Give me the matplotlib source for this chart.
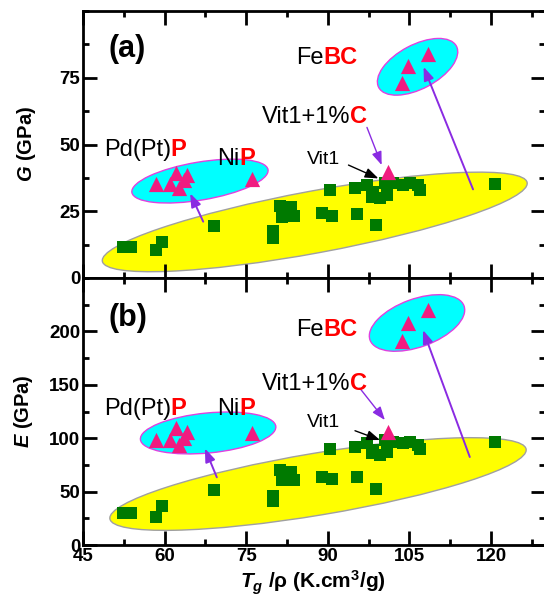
import matplotlib
matplotlib.use("Agg")
import matplotlib.pyplot as plt
import matplotlib.transforms as mtransforms
from matplotlib.patches import Ellipse
from matplotlib.ticker import MultipleLocator

plt.rcParams['font.family'] = ['Liberation Sans', 'DejaVu Sans']
plt.rcParams['mathtext.fontset'] = 'custom'
plt.rcParams['mathtext.rm'] = 'Liberation Sans:bold'
plt.rcParams['mathtext.bf'] = 'Liberation Sans:bold'
plt.rcParams['mathtext.it'] = 'Liberation Sans:italic:bold'

# ---------------- data ----------------
# metallic glasses (green squares)
mg_x = [52.4, 53.9, 58.5, 59.5, 69.1, 79.9, 79.9, 81.2, 83.2, 81.6, 83.8, 82.3,
        89.0, 90.8, 90.4, 95.0, 95.3, 98.8, 97.2, 98.1, 99.6, 100.5, 102.0,
        103.8, 105.1, 106.6, 106.9, 100.8, 98.3, 120.7]
mg_G = [11.7, 11.5, 10.5, 13.5, 19.5, 15.0, 17.5, 26.9, 26.5, 22.8, 23.1, 24.6,
        24.4, 23.1, 32.8, 33.7, 23.9, 19.8, 34.7, 30.3, 29.9, 35.4, 35.4,
        34.7, 35.4, 34.7, 32.8, 31.0, 32.2, 35.3]
mg_E = [30.3, 29.7, 26.5, 36.6, 51.5, 41.0, 46.0, 70.3, 68.7, 60.9, 60.9, 65.0,
        64.0, 61.6, 89.7, 92.1, 63.4, 52.2, 95.3, 85.9, 84.3, 98.4, 96.8,
        95.3, 96.0, 94.0, 90.0, 87.0, 89.0, 96.0]

# metalloid-containing glasses (pink triangles)
pd_x = [58.5, 61.0, 62.1, 64.1, 62.7, 63.6]
pd_G = [35.3, 35.3, 39.2, 38.4, 33.6, 36.6]
pd_E = [98.4, 98.4, 109.4, 106.2, 93.7, 100.0]
ni_x = [76.0]
ni_G = [37.2]
ni_E = [104.7]
vc_x = [101.1]
vc_G = [39.7]
vc_E = [106.2]
fe_x = [103.6, 104.8, 108.5]
fe_G = [73.2, 79.5, 83.8]
fe_E = [191.0, 208.0, 220.0]

x_ticks = [45, 60, 75, 90, 105, 120]
G_ticks = [0, 25, 50, 75]
E_ticks = [0, 50, 100, 150, 200]

# ---------------- figure ----------------
W, H = 544, 604
fig = plt.figure(figsize=(W / 100, H / 100), dpi=100)
left = 83 / W
width = (545.4 - 83) / W
ax1 = fig.add_axes([left, 1 - 278 / H, width, (278 - 11) / H])
ax2 = fig.add_axes([left, 1 - 545 / H, width, (545 - 278) / H])

GREEN = '#007a00'
PINK = '#f01c80'
PURPLE = '#8a2be2'
CYAN = '#00ffff'
YELLOW = '#ffff00'


def style(ax, ylim, yticks, yminor, show_x):
    ax.set_xlim(45, 130)
    ax.set_ylim(*ylim)
    ax.set_xticks(x_ticks)
    ax.xaxis.set_minor_locator(MultipleLocator(7.5))
    ax.set_yticks(yticks)
    ax.yaxis.set_minor_locator(MultipleLocator(yminor))
    ax.tick_params(which='both', direction='in', top=True, right=True, width=2)
    ax.tick_params(which='major', length=10)
    ax.tick_params(which='minor', length=4.5)
    ax.tick_params(labelsize=13.5, pad=2)
    for t in ax.get_xticklabels() + ax.get_yticklabels():
        t.set_fontweight('bold')
    if not show_x:
        ax.tick_params(labelbottom=False)
    for s in ax.spines.values():
        s.set_linewidth(2)


def ell(ax, cx, cy, w_px, h_px, ang, fc, ec):
    tr = fig.dpi_scale_trans + mtransforms.ScaledTranslation(cx, cy, ax.transData)
    e = Ellipse((0, 0), w_px / 100, h_px / 100, angle=ang, transform=tr,
                facecolor=fc, edgecolor=ec, lw=1.0, zorder=1)
    ax.add_patch(e)


def arrow(ax, tail, head, color, lw=1.4):
    ax.annotate('', xy=head, xytext=tail,
                arrowprops=dict(arrowstyle='-|>,head_length=0.8,head_width=0.3',
                                color=color, lw=lw, shrinkA=0, shrinkB=0),
                zorder=5)


def rich(ax, x, y, parts, size):
    fig.canvas.draw()
    r = fig.canvas.get_renderer()
    xd = ax.transData.transform((x, y))[0]
    for txt, col, wt in parts:
        tr = mtransforms.blended_transform_factory(mtransforms.IdentityTransform(), ax.transData)
        t = ax.text(xd, y, txt, color=col, fontweight=wt, fontsize=size,
                    ha='left', va='baseline', transform=tr, zorder=6)
        bb = t.get_window_extent(r)
        xd = bb.x1


style(ax1, (0, 100), G_ticks, 12.5, False)
style(ax2, (0, 250), E_ticks, 25, True)

# ---- panel (a) ----
ell(ax1, 87.6, 21.0, 432, 62, 10.5, YELLOW, '#a0a0a0')
ell(ax1, 66.5, 36.3, 138, 38, 9.5, CYAN, '#e040e0')
ell(ax1, 106.5, 79.1, 88, 44, 28, CYAN, '#e040e0')
ax1.scatter(mg_x, mg_G, marker='s', s=80, color=GREEN, zorder=3, linewidths=0)
for xs, ys in [(pd_x, pd_G), (ni_x, ni_G), (vc_x, vc_G), (fe_x, fe_G)]:
    ax1.scatter(xs, ys, marker='^', s=120, color=PINK, zorder=4, linewidths=0)
arrow(ax1, (67.1, 21.1), (64.7, 31.7), PURPLE)
arrow(ax1, (116.7, 33.2), (107.6, 79.1), PURPLE)
arrow(ax1, (97.2, 56.4), (99.9, 42.3), PURPLE, lw=1.0)
arrow(ax1, (93.8, 42.3), (99.3, 37.3), 'black', lw=1.0)

# ---- panel (b) ----
ell(ax2, 88.2, 57.1, 422, 62, 9.5, YELLOW, '#a0a0a0')
ell(ax2, 68.0, 104.9, 136, 40, 5.5, CYAN, '#e040e0')
ell(ax2, 106.4, 207.9, 100, 48, 20, CYAN, '#e040e0')
ax2.scatter(mg_x, mg_E, marker='s', s=80, color=GREEN, zorder=3, linewidths=0)
for xs, ys in [(pd_x, pd_E), (ni_x, ni_E), (vc_x, vc_E), (fe_x, fe_E)]:
    ax2.scatter(xs, ys, marker='^', s=120, color=PINK, zorder=4, linewidths=0)
arrow(ax2, (69.6, 63.4), (67.4, 90.5), PURPLE)
arrow(ax2, (116.1, 82.4), (107.5, 201.3), PURPLE)
arrow(ax2, (95.9, 146.7), (100.5, 117.0), PURPLE, lw=1.0)
arrow(ax2, (95.0, 107.0), (99.6, 98.3), 'black', lw=1.0)

# ---- texts ----
ax1.text(49.6, 82.8, '(a)', fontsize=22, fontweight='bold', va='baseline', zorder=6)
ax2.text(49.6, 205.0, '(b)', fontsize=22, fontweight='bold', va='baseline', zorder=6)

for ax, ys in [(ax1, dict(fe=80.1, vc=58.1, pd=45.7, ni=42.3, v1=42.7)),
               (ax2, dict(fe=195.7, vc=145.0, pd=121.7, ni=121.7, v1=110.5))]:
    rich(ax, 84.2, ys['fe'], [('Fe', 'black', 'normal'), ('BC', 'red', 'bold')], 17)
    rich(ax, 77.9, ys['vc'], [('Vit1+1%', 'black', 'normal'), ('C', 'red', 'bold')], 17)
    rich(ax, 48.8, ys['pd'], [('Pd(Pt)', 'black', 'normal'), ('P', 'red', 'bold')], 17)
    rich(ax, 69.6, ys['ni'], [('Ni', 'black', 'normal'), ('P', 'red', 'bold')], 17)
    rich(ax, 86.2, ys['v1'], [('Vit1', 'black', 'normal')], 14)

ax1.set_ylabel(r'$\mathit{G}$ (GPa)', fontsize=14.5, fontweight='bold')
ax1.yaxis.set_label_coords(-0.097, 0.5)
ax2.set_ylabel(r'$\mathit{E}$ (GPa)', fontsize=14.5, fontweight='bold')
ax2.yaxis.set_label_coords(-0.104, 0.5)
fig.text(313 / W, 1 - 583 / H, r'$\mathit{T}_{\mathit{g}}$ /ρ (K.cm$^{3}$/g)',
         fontsize=15, fontweight='bold', ha='center', va='center')

fig.savefig('out.png', dpi=100)
